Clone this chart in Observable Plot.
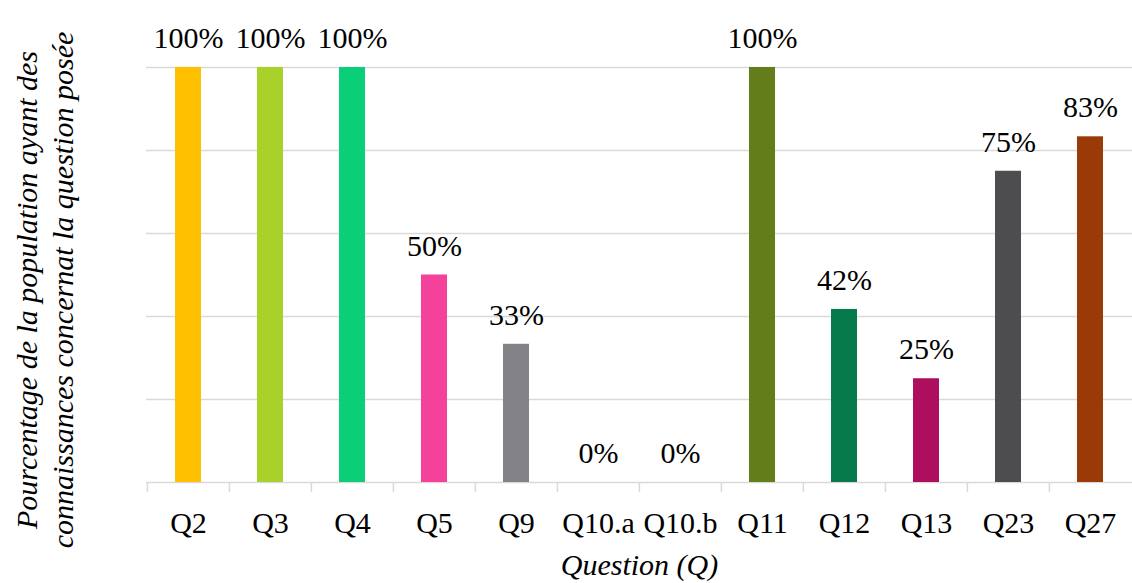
<!DOCTYPE html>
<html>
<head>
<meta charset="utf-8">
<script src="https://cdn.jsdelivr.net/npm/d3@7"></script>
<script src="https://cdn.jsdelivr.net/npm/@observablehq/plot@0.6"></script>
<style>
  html, body { margin: 0; padding: 0; background: #fff; }
  svg { display: block; }
  #chart svg, #chart svg text { font-family: "Liberation Serif", "Times New Roman", serif !important; }
</style>
</head>
<body>
<div id="chart"></div>
<script>
const categories = ["Q2", "Q3", "Q4", "Q5", "Q9", "Q10.a", "Q10.b", "Q11", "Q12", "Q13", "Q23", "Q27"];
const values = [100, 100, 100, 50, 33.3, 0, 0, 100, 41.7, 25, 75, 83.3];
const colors = ["#FFC000", "#A8D129", "#0ACF78", "#F4419A", "#838286", "#A8A8A8", "#A8A8A8", "#637D1A", "#067A4A", "#AD0F5E", "#4D4C51", "#9A3A08"];
const gridTicks = [0, 20, 40, 60, 80, 100];
const yTitle = "Pourcentage de la population ayant des\nconnaissances concernat la question posée";
const xTitle = "Question (Q)";

const data = categories.map((c, i) => ({q: c, v: values[i], color: colors[i]}));

const W = 1132, H = 583, mL = 146, mR = 0, mT = 67, mB = 101;
const step = (W - mL - mR) / categories.length;
const font = "'Liberation Serif', 'Times New Roman', serif";

const chart = Plot.plot({
  width: W,
  height: H,
  marginLeft: mL,
  marginRight: mR,
  marginTop: mT,
  marginBottom: mB,
  style: {fontFamily: font, fontSize: "30px", color: "#000", background: "#fff"},
  x: {domain: categories, paddingInner: 0.68, paddingOuter: 0.34, label: null},
  y: {domain: [0, 100], label: null},
  marks: [
    Plot.gridY(gridTicks, {stroke: "#d9d9d9", strokeOpacity: 1, strokeWidth: 1.5}),
    Plot.axisY({ticks: [], label: null, tickSize: 0}),
    Plot.axisX({tickSize: 10, dx: -step / 2, stroke: "#d9d9d9", strokeWidth: 1.5, strokeOpacity: 1, tickFormat: () => "", label: null}),
    Plot.axisX({tickSize: 0, tickPadding: 29, fontSize: 30, fontFamily: font, label: null}),
    Plot.barY(data, {x: "q", y: "v", fill: "color"}),
    Plot.text(data, {x: "q", y: "v", text: d => Math.round(d.v) + "%", dy: -29, fontSize: 30, fontFamily: font, fill: "#000"}),
    Plot.text([yTitle], {frameAnchor: "left", textAnchor: "middle", text: d => d, rotate: -90, dx: -103, dy: 15, fontSize: 30, fontFamily: font, fontStyle: "italic", lineHeight: 1.2, fill: "#000"}),
    Plot.text([xTitle], {frameAnchor: "bottom", text: d => d, dy: 92, fontSize: 30, fontFamily: font, fontStyle: "italic", fill: "#000"})
  ]
});
document.getElementById("chart").appendChild(chart);
</script>
</body>
</html>
